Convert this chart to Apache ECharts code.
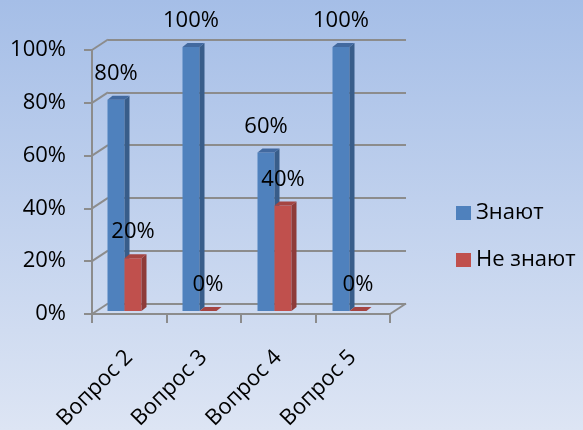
<!DOCTYPE html>
<html><head><meta charset="utf-8">
<script src="https://cdn.jsdelivr.net/npm/echarts@6/dist/echarts.min.js"></script>
<style>html,body{margin:0;padding:0;} #c{width:583px;height:430px;}</style>
</head><body><div id="c"></div>
<script>
const categories = ['Вопрос 2', 'Вопрос 3', 'Вопрос 4', 'Вопрос 5'];
const seriesNames = ['Знают', 'Не знают'];
const knowValues = [80, 100, 60, 100];
const notKnowValues = [20, 0, 40, 0];
const yTicks = [0, 20, 40, 60, 80, 100];

const FONT = 'Open Sans';
const FS = 22;
const GRID_COLOR = '#8c8c8c';
const colors = [
  { front: '#4F81BD', side: '#385D8A', top: '#42699F' },
  { front: '#C0504D', side: '#8E3B39', top: '#A54542' }
];
const depth = [5, -4];
const wallDepth = [16, -10.5];
const BAR_W = 17;

function barRender(sIdx) {
  return function (params, api) {
    const cat = api.value(0), v = api.value(1);
    const top = api.coord([cat, v]);
    const base = api.coord([cat, 0]);
    const cx = top[0];
    const x0 = sIdx === 0 ? cx - BAR_W : cx;
    const x1 = x0 + BAR_W;
    const yt = top[1], yb = base[1];
    const c = colors[sIdx];
    const [dx, dy] = depth;
    const children = [];
    if (yb - yt > 0.5) {
      children.push({ type: 'rect', shape: { x: x0, y: yt, width: BAR_W, height: yb - yt }, style: { fill: c.front } });
      children.push({ type: 'polygon', shape: { points: [[x1, yt], [x1 + dx, yt + dy], [x1 + dx, yb + dy], [x1, yb]] }, style: { fill: c.side } });
    }
    children.push({ type: 'polygon', shape: { points: [[x0, yt], [x1, yt], [x1 + dx, yt + dy], [x0 + dx, yt + dy]] }, style: { fill: c.top } });
    children.push({ type: 'text', style: { text: v + '%', x: (x0 + x1) / 2, y: yt - 26, align: 'center', verticalAlign: 'middle', fill: '#000', fontSize: FS, fontFamily: FONT } });
    return { type: 'group', children };
  };
}

const chart = echarts.init(document.getElementById('c'));
chart.setOption({
  animation: false,
  backgroundColor: { type: 'linear', x: 0, y: 0, x2: 0, y2: 1, colorStops: [{ offset: 0, color: '#A5BEE7' }, { offset: 1, color: '#DDE5F4' }] },
  grid: [
    { left: 92, top: 50, width: 298, height: 264, containLabel: false, outerBoundsMode: 'none' },
    { left: 108, top: 39.5, width: 298, height: 264, containLabel: false, outerBoundsMode: 'none' },
    { left: 87, top: 47, width: 300, height: 264, containLabel: false, outerBoundsMode: 'none' }
  ],
  legend: {
    data: seriesNames, orient: 'vertical', left: 451, top: 197,
    itemWidth: 15, itemHeight: 14, itemGap: 25,
    icon: 'rect',
    textStyle: { fontSize: FS, fontFamily: FONT, color: '#000' }
  },
  xAxis: [
    { gridIndex: 0, type: 'category', data: categories, boundaryGap: true,
      axisLine: { show: true, lineStyle: { color: GRID_COLOR, width: 2 } },
      axisTick: { show: true, length: 9, interval: 0, lineStyle: { color: GRID_COLOR, width: 2 } },
      axisLabel: { rotate: 45, margin: 40, interval: 0, fontSize: FS, fontFamily: FONT, color: '#000' },
      splitLine: { show: false } },
    { gridIndex: 1, type: 'category', data: categories, show: false },
    { gridIndex: 2, type: 'category', data: categories, show: false }
  ],
  yAxis: [
    { gridIndex: 0, type: 'value', min: 0, max: 100, interval: 20,
      axisLine: { show: true, lineStyle: { color: GRID_COLOR, width: 2 } },
      axisTick: { show: true, length: 8, lineStyle: { color: GRID_COLOR, width: 2 } },
      axisLabel: { formatter: '{value}%', margin: 26, fontSize: FS, fontFamily: FONT, color: '#000' },
      splitLine: { show: false } },
    { gridIndex: 1, type: 'value', min: 0, max: 100, interval: 20,
      axisLine: { show: false }, axisTick: { show: false }, axisLabel: { show: false },
      splitLine: { show: true, lineStyle: { color: GRID_COLOR, width: 2 } } },
    { gridIndex: 2, type: 'value', min: 0, max: 100, interval: 20, show: false }
  ],
  series: [
    { type: 'custom', xAxisIndex: 0, yAxisIndex: 0, silent: true, z: 1,
      data: yTicks.map(v => [0, v]),
      renderItem: function (params, api) {
        const cs = params.coordSys;
        const y = api.coord([0, api.value(1)])[1];
        return { type: 'line', shape: { x1: cs.x, y1: y, x2: cs.x + wallDepth[0], y2: y + wallDepth[1] }, style: { stroke: GRID_COLOR, lineWidth: 2 } };
      } },
    { type: 'custom', xAxisIndex: 0, yAxisIndex: 0, silent: true, z: 1,
      data: [[categories.length - 1, 0]],
      renderItem: function (params, api) {
        const cs = params.coordSys;
        const y = api.coord([0, 0])[1];
        const x = cs.x + cs.width;
        return { type: 'line', shape: { x1: x, y1: y, x2: x + wallDepth[0], y2: y + wallDepth[1] }, style: { stroke: GRID_COLOR, lineWidth: 2 } };
      } },
    { name: seriesNames[0], type: 'custom', xAxisIndex: 2, yAxisIndex: 2, z: 3,
      itemStyle: { color: colors[0].front },
      data: knowValues.map((v, i) => [i, v]),
      renderItem: barRender(0) },
    { name: seriesNames[1], type: 'custom', xAxisIndex: 2, yAxisIndex: 2, z: 3,
      itemStyle: { color: colors[1].front },
      data: notKnowValues.map((v, i) => [i, v]),
      renderItem: barRender(1) }
  ]
});
</script></body></html>
